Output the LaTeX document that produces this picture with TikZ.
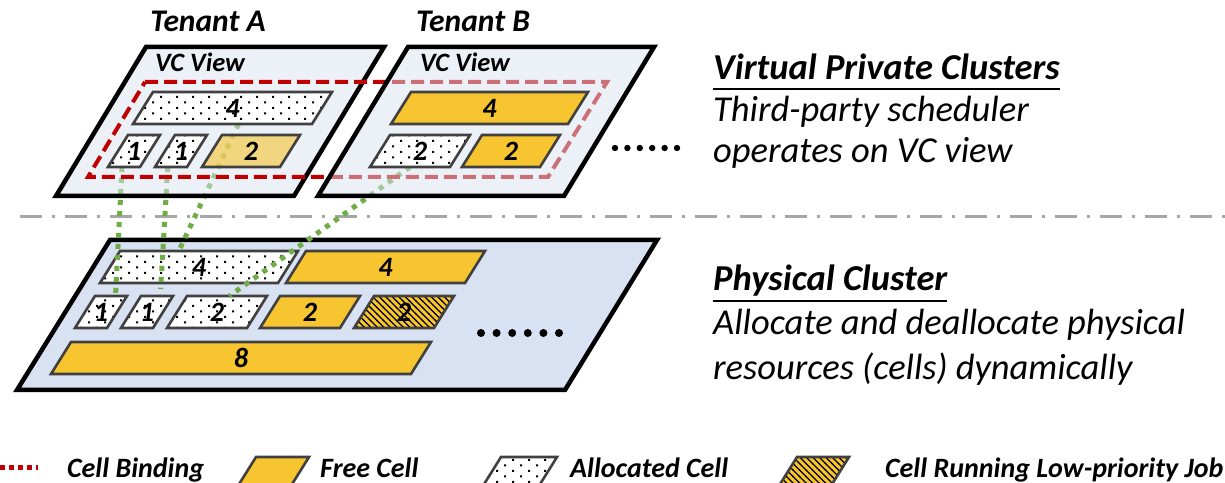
\documentclass[tikz,border=0pt]{standalone}
\usepackage{fontspec}
\setmainfont{Carlito}
\usetikzlibrary{patterns,calc}

% sparse dots for allocated cells
\pgfdeclarepatternformonly{sparsedots}{\pgfqpoint{-1bp}{-1bp}}{\pgfqpoint{17bp}{12bp}}{\pgfqpoint{16bp}{11bp}}{%
  \pgfpathrectangle{\pgfqpoint{0bp}{0bp}}{\pgfqpoint{2bp}{2bp}}%
  \pgfpathrectangle{\pgfqpoint{8bp}{5.5bp}}{\pgfqpoint{2bp}{2bp}}%
  \pgfusepath{fill}}
% back-slash hatching for cells running low-priority jobs
\pgfdeclarepatternformonly{hatchdown}{\pgfqpoint{-1bp}{-1bp}}{\pgfqpoint{7.5bp}{7.5bp}}{\pgfqpoint{6.5bp}{6.5bp}}{%
  \pgfsetlinewidth{1.1bp}%
  \pgfpathmoveto{\pgfqpoint{-0.5bp}{7bp}}\pgfpathlineto{\pgfqpoint{7bp}{-0.5bp}}%
  \pgfusepath{stroke}}

\definecolor{cellyellow}{HTML}{F7C52F}
\definecolor{vcfill}{HTML}{D9E1EF}
\definecolor{pcfill}{HTML}{D9E2F3}
\definecolor{bindred}{HTML}{C00000}
\definecolor{linkgreen}{HTML}{70AD47}
\definecolor{cellborder}{HTML}{404040}
\definecolor{sepgray}{HTML}{A6A6A6}

\pgfdeclarelayer{front}
\pgfsetlayers{main,front}

% a cell: name, x and y of bottom-left corner, bottom width, style, label
\newcommand\cellat[6]{%
  \path[#5] (#2,#3) -- ++(#4,0) -- ++(20,-32) -- ++(-#4,0) -- cycle;
  \coordinate (#1-bl) at (#2,#3);
  \coordinate (#1-br) at ($(#1-bl)+(#4,0)$);
  \coordinate (#1-tl) at ($(#1-bl)+(20,-32)$);
  \coordinate (#1-tr) at ($(#1-tl)+(#4,0)$);
  \node[num] (#1) at ($(#1-bl)!0.5!(#1-tr)$) {#6};%
}

\begin{document}
\begin{tikzpicture}[x=1bp,y=-1bp,
  plane/.style={draw=black, line width=4.5bp, line join=miter},
  vcplane/.style={plane, fill=vcfill, fill opacity=0.5},
  pcplane/.style={plane, fill=pcfill},
  cell/.style={draw=cellborder, line width=2.6bp, line join=miter},
  freecell/.style={cell, fill=cellyellow},
  fadedcell/.style={cell, fill=cellyellow, fill opacity=0.6},
  usedcell/.style={cell, preaction={fill=white}, pattern=sparsedots},
  lowcell/.style={cell, preaction={fill=cellyellow}, pattern=hatchdown},
  num/.style={inner sep=0pt, font=\fontsize{28bp}{30bp}\selectfont\bfseries\itshape},
  binding/.style={draw=bindred, line width=4bp, dash pattern=on 13bp off 6bp},
  link/.style={draw=linkgreen, line width=5bp, dash pattern=on 5bp off 6bp},
  sep/.style={draw=sepgray, line width=3bp, dash pattern=on 22bp off 10bp on 3bp off 10bp},
  tenant/.style={inner sep=0pt, font=\fontsize{31.5bp}{34bp}\selectfont\bfseries\itshape},
  vclabel/.style={inner sep=0pt, font=\fontsize{26.5bp}{28bp}\selectfont\bfseries\itshape},
  head/.style={inner sep=0pt, font=\fontsize{36.5bp}{40bp}\selectfont\bfseries\itshape},
  body/.style={inner sep=0pt, font=\fontsize{36.5bp}{40bp}\selectfont\itshape},
  legend/.style={inner sep=0pt, font=\fontsize{28bp}{30bp}\selectfont\bfseries\itshape},
  legendbinding/.style={draw=bindred, line width=5bp, dash pattern=on 5bp off 4bp}]
\useasboundingbox (0,0) rectangle (1225,483);

% separator between the virtual and the physical level
\coordinate (sepL) at (20,217);
\coordinate (sepR) at (1225,217);
\draw[sep] (sepL) -- (sepR);

% physical cluster
\draw[pcplane] (110,240) -- (657,240) -- (565,390) -- (17,390) -- cycle;
\cellat{p4a}{100}{283}{178}{usedcell}{4}
\cellat{p4b}{286}{283}{179}{freecell}{4}
\cellat{p1a}{75}{328}{32}{usedcell}{1}
\cellat{p1b}{121}{328}{32}{usedcell}{1}
\cellat{p2a}{167}{328}{80}{usedcell}{2}
\cellat{p2b}{260}{328}{80}{freecell}{2}
\cellat{p2c}{354}{328}{80}{lowcell}{2}
\cellat{p8}{51}{374}{360}{freecell}{8}
\foreach \i in {0,...,5} \fill (481+15.6*\i,333) circle (4);

% virtual clusters of the two tenants
\begin{pgfonlayer}{front}
\node[tenant, anchor=base] (tA) at (208,32) {Tenant A};
\node[tenant, anchor=base] (tB) at (473,32) {Tenant B};

\draw[vcplane] (146,47) -- (384,47) -- (294,196) -- (56,196) -- cycle;
\node[vclabel, anchor=base west] (vcA) at (155,72) {VC View};
\cellat{va4}{133}{124}{179}{usedcell}{4}
\cellat{va1a}{108}{167}{32}{usedcell}{1}
\cellat{va1b}{155}{167}{32}{usedcell}{1}
\cellat{va2}{202}{167}{78}{fadedcell}{2}

\draw[binding] (145,82) -- (607,82) -- (548,177) -- (88,177) -- cycle;

\draw[vcplane] (408,47) -- (654,47) -- (564,196) -- (318,196) -- cycle;
\node[vclabel, anchor=base west] (vcB) at (420,72) {VC View};
\cellat{vb4}{391}{124}{177}{freecell}{4}
\cellat{vb2a}{370}{167}{80}{usedcell}{2}
\cellat{vb2b}{462}{167}{78}{freecell}{2}
\foreach \i in {0,...,5} \fill (615+12.4*\i,148) circle (3.2);
\end{pgfonlayer}

% bindings from virtual cells to physical cells
\draw[link] ($(va1a-bl)!0.44!(va1a-br)$) -- ($(p1a-tl)!0.64!(p1a-tr)$);
\draw[link, shorten >=7bp] ($(va1b-bl)!0.4!(va1b-br)$) -- ($(p1b-tl)!0.6!(p1b-tr)$);
\draw[link] ($(va4-bl)!0.59!(va4-br)$) -- ($(p4a-tl)!0.33!(p4a-tr)$);
\draw[link] ($(vb2a-bl)!0.5!(vb2a-br)$) -- ($(p2a-tl)!0.53!(p2a-tr)$);

% descriptions
\node[head, anchor=base west] (vpc) at (713,80) {Virtual Private Clusters};
\draw[line width=2.5bp] ([yshift=-9bp]vpc.base west) -- ([yshift=-9bp]vpc.base east);
\node[body, anchor=base west] (vpc1) at (713,122) {Third-party scheduler};
\node[body, anchor=base west] (vpc2) at (713,163) {operates on VC view};
\node[head, anchor=base west] (pc) at (713,291) {Physical Cluster};
\draw[line width=2.5bp] ([yshift=-10bp]pc.base west) -- ([yshift=-10bp]pc.base east);
\node[body, anchor=base west] (pc1) at (713,335) {Allocate and deallocate physical};
\node[body, anchor=base west] (pc2) at (713,380) {resources (cells) dynamically};

% legend
\coordinate (lgA) at (0,467);
\coordinate (lgB) at (38,467);
\draw[legendbinding] (lgA) -- (lgB);
\node[legend, anchor=base west] (lg1) at (67,477) {Cell Binding};
\cellat{lfree}{236}{489}{53}{freecell}{}
\node[legend, anchor=base west] (lg2) at (320,477) {Free Cell};
\cellat{lused}{481}{489}{56}{usedcell}{}
\node[legend, anchor=base west] (lg3) at (570,477) {Allocated Cell};
\cellat{llow}{777}{489}{52}{lowcell}{}
\node[legend, anchor=base west] (lg4) at (885,477) {Cell Running Low-priority Job};
\end{tikzpicture}
\end{document}
